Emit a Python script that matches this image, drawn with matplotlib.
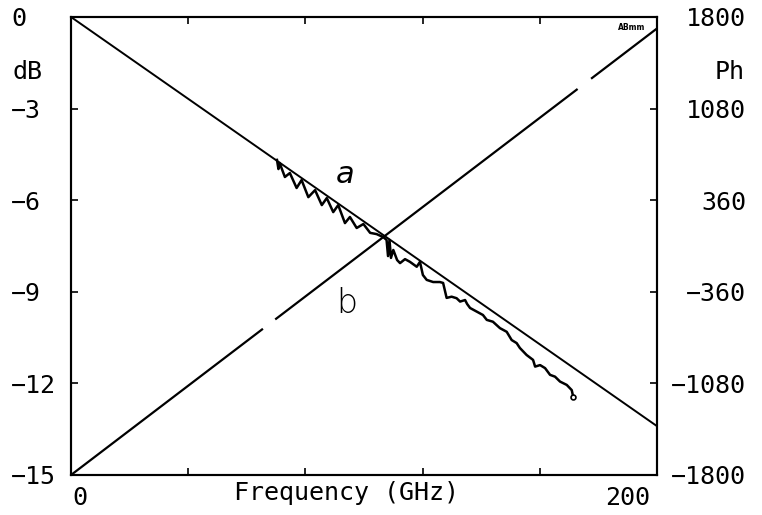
import numpy as np
import matplotlib
matplotlib.use("Agg")
import matplotlib.pyplot as plt
from matplotlib.transforms import ScaledTranslation

plt.rcParams['font.family'] = ['DejaVu Sans Mono', 'DejaVu Sans']

# Straight reference lines: insertion loss (dB) and phase (deg) vs frequency
loss_f = [0, 200]
loss_db = [0.0, -13.4]

phase_f = [0, 65.2, np.nan, 70.0, 172.6, np.nan, 177.8, 200]
phase_deg = [-1800, -656, np.nan, -572, 1229, np.nan, 1320, 1710]

# Measured attenuation trace (GHz, dB)
meas_f = [70.3, 70.8, 71.2, 73.0, 74.7, 77.0, 78.7, 81.0, 83.3, 85.6,
          87.3, 89.5, 91.2, 93.5, 95.2, 97.5, 99.8, 102.1, 104.3, 106.6,
          107.7, 108.2, 108.7, 109.2, 110.0, 111.3, 112.3, 114.0, 115.7, 118.0,
          119.1, 120.1, 121.4, 123.6, 125.9, 127.0, 128.2, 129.9, 131.6, 132.8,
          134.5, 135.2, 136.2, 138.5, 140.6, 141.9, 144.0, 146.4, 148.7, 150.4,
          152.1, 153.2, 155.5, 157.7, 158.4, 160.1, 161.8, 163.5, 165.2, 166.9,
          169.2, 170.9, 171.4]
meas_db = [-4.68, -4.98, -4.78, -5.24, -5.11, -5.60, -5.34, -5.90, -5.67, -6.16,
           -5.93, -6.39, -6.16, -6.75, -6.55, -6.91, -6.78, -7.07, -7.11, -7.21,
           -7.30, -7.83, -7.30, -7.89, -7.63, -7.96, -8.06, -7.93, -8.02, -8.18,
           -8.02, -8.45, -8.61, -8.68, -8.68, -8.71, -9.20, -9.16, -9.21, -9.32,
           -9.27, -9.40, -9.53, -9.65, -9.76, -9.92, -9.98, -10.19, -10.31, -10.58,
           -10.68, -10.84, -11.07, -11.23, -11.45, -11.40, -11.50, -11.72, -11.78, -11.94,
           -12.05, -12.22, -12.44]

db_ticks = [0, -3, -6, -9, -12, -15]
ph_ticks = [1800, 1080, 360, -360, -1080, -1800]
f_ticks = [0, 40, 80, 120, 160, 200]


def fmt(v):
    return str(v).replace('-', '\u2212')


fig = plt.figure(figsize=(7.62, 5.15), dpi=100)
ax = fig.add_axes([71 / 762, 40 / 515, 586 / 762, 458 / 515])
ax2 = ax.twinx()

ax.set_xlim(0, 200)
ax.set_ylim(-15, 0)
ax2.set_ylim(-1800, 1800)

ax.plot(loss_f, loss_db, color='black', lw=1.4)
ax.plot(meas_f, meas_db, color='black', lw=1.8)
ax.plot(meas_f[-1:], meas_db[-1:], 'o', ms=3.5, mfc='white', mec='black', mew=1.2)
ax2.plot(phase_f, phase_deg, color='black', lw=1.6)

for a in (ax, ax2):
    for s in a.spines.values():
        s.set_linewidth(1.5)

fs = 18
ax.set_xticks(f_ticks)
ax.set_xticklabels([])
ax.tick_params(axis='x', direction='in', length=5, width=1.2, top=True, bottom=True)
ax.set_yticks(db_ticks)
ax.set_yticklabels([fmt(v) for v in db_ticks], fontsize=fs)
ax.tick_params(axis='y', direction='in', length=5, width=1.2, pad=43)
for lab in ax.get_yticklabels():
    lab.set_horizontalalignment('left')

ax2.set_yticks(ph_ticks)
ax2.set_yticklabels([fmt(v) for v in ph_ticks], fontsize=fs)
ax2.tick_params(axis='y', direction='in', length=5, width=1.2, pad=64)
for lab in ax2.get_yticklabels():
    lab.set_horizontalalignment('right')

# Frequency end labels and axis title
xt = ax.get_xaxis_transform()
ax.text(0, -0.05, '0', transform=xt + ScaledTranslation(1 / 100, 0, fig.dpi_scale_trans),
        ha='left', va='center', fontsize=fs)
ax.text(200, -0.05, '200', transform=xt + ScaledTranslation(-7 / 100, 0, fig.dpi_scale_trans),
        ha='right', va='center', fontsize=fs)
ax.text(0.47, -0.04, 'Frequency (GHz)', transform=ax.transAxes,
        ha='center', va='center', fontsize=fs)

# Unit labels beside the scales
ax.text(-0.1, 0.88, 'dB', transform=ax.transAxes, ha='left', va='center', fontsize=fs)
ax2.text(1.15, 0.88, 'Ph', transform=ax2.transAxes, ha='right', va='center', fontsize=fs)

# Curve identifiers
ax.text(93.5, -5.17, 'a', ha='center', va='center', fontsize=22,
        family='DejaVu Sans', style='italic', fontweight='light')
ax.text(94.0, -9.37, 'b', ha='center', va='center', fontsize=24,
        family='DejaVu Sans', fontweight='light')

ax.text(0.957, 0.978, 'ABmm', transform=ax.transAxes, ha='center', va='center',
        fontsize=5.5, family='DejaVu Sans', fontweight='bold')

fig.savefig('out.png', dpi=100, facecolor='white')
